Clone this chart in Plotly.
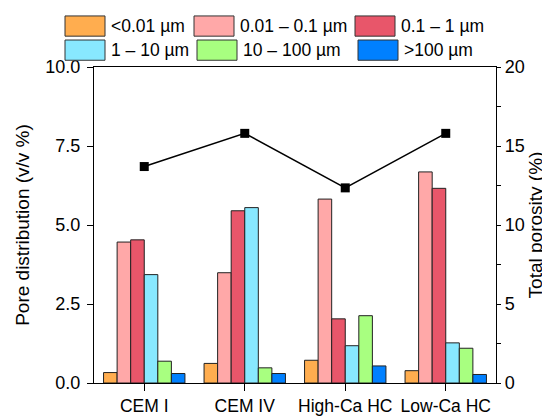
import plotly.graph_objects as go

categories = ["CEM I", "CEM IV", "High-Ca HC", "Low-Ca HC"]
series_names = ["<0.01 µm", "0.01 – 0.1 µm", "0.1 – 1 µm", "1 – 10 µm", "10 – 100 µm", ">100 µm"]
s_lt001 = [0.33, 0.62, 0.72, 0.39]
s_001_01 = [4.46, 3.49, 5.82, 6.68]
s_01_1 = [4.53, 5.45, 2.03, 6.16]
s_1_10 = [3.43, 5.55, 1.18, 1.27]
s_10_100 = [0.69, 0.48, 2.13, 1.10]
s_gt100 = [0.30, 0.30, 0.54, 0.27]
total_porosity = [13.7, 15.8, 12.35, 15.8]

series_values = [s_lt001, s_001_01, s_01_1, s_1_10, s_10_100, s_gt100]
colors = ["#FFAD4F", "#FFA8A8", "#E8566A", "#88E8FF", "#A8FF80", "#0080FF"]

FONT = "Liberation Sans, Arial, sans-serif"
FS = 17.5
TFS = 18
TITLE_FS = 19

fig = go.Figure()
for name, vals, col in zip(series_names, series_values, colors):
    fig.add_trace(go.Bar(x=categories, y=vals, name=name,
                         marker=dict(color=col, line=dict(color="#222222", width=1)),
                         showlegend=False))

fig.add_trace(go.Scatter(x=categories, y=total_porosity, yaxis="y2", mode="lines+markers",
                         line=dict(color="black", width=1.5),
                         marker=dict(symbol="square", size=9, color="black"),
                         showlegend=False))

# custom legend (large swatches)
leg_pos = [(57, 6), (186, 6), (347, 6), (57, 31), (189, 31), (350, 31)]
W, H = 550, 420
for (x0, y0), name, col in zip(leg_pos, series_names, colors):
    fig.add_shape(type="rect", xref="paper", yref="paper",
                  x0=(x0 - 86) / 402, x1=(x0 + 40 - 86) / 402,
                  y0=(387 - y0) / 328, y1=(387 - y0 - 21) / 328,
                  fillcolor=col, line=dict(color="#333333", width=1))
    fig.add_annotation(xref="paper", yref="paper",
                       x=(x0 + 44 - 86) / 402, y=(387 - y0 - 10.5) / 328,
                       text=name, showarrow=False, xanchor="left", yanchor="middle",
                       font=dict(family=FONT, size=FS, color="black"))

fig.update_layout(
    width=W, height=H,
    margin=dict(l=86, r=62, t=59, b=33),
    plot_bgcolor="white", paper_bgcolor="white",
    barmode="group", bargap=0.19, bargroupgap=0,
    font=dict(family=FONT, size=FS, color="black"),
    xaxis=dict(showline=True, linecolor="black", linewidth=1.2, mirror=True,
               ticks="outside", ticklen=7, tickcolor="black", showgrid=False,
               tickfont=dict(size=FS)),
    yaxis=dict(range=[0, 10], tickvals=[0, 2.5, 5, 7.5, 10],
               ticktext=["0.0", "2.5", "5.0", "7.5", "10.0"],
               showline=True, linecolor="black", linewidth=1.2,
               ticks="outside", ticklen=6, tickcolor="black", showgrid=False, zeroline=False,
               tickfont=dict(size=TFS), ticklabelstandoff=3,
               title=dict(text="Pore distribution (v/v %)", font=dict(size=TITLE_FS), standoff=10)),
    yaxis2=dict(range=[0, 20], overlaying="y", side="right",
                tickvals=[0, 5, 10, 15, 20],
                minor=dict(tickvals=[2.5, 7.5, 12.5, 17.5], ticks="outside", ticklen=4, tickcolor="black"),
                showline=True, linecolor="black", linewidth=1.2,
                ticks="outside", ticklen=4, tickcolor="black", showgrid=False, zeroline=False,
                tickfont=dict(size=TFS),
                title=dict(text="Total porosity (%)", font=dict(size=TITLE_FS), standoff=4)),
)

fig.write_html("out.html")
